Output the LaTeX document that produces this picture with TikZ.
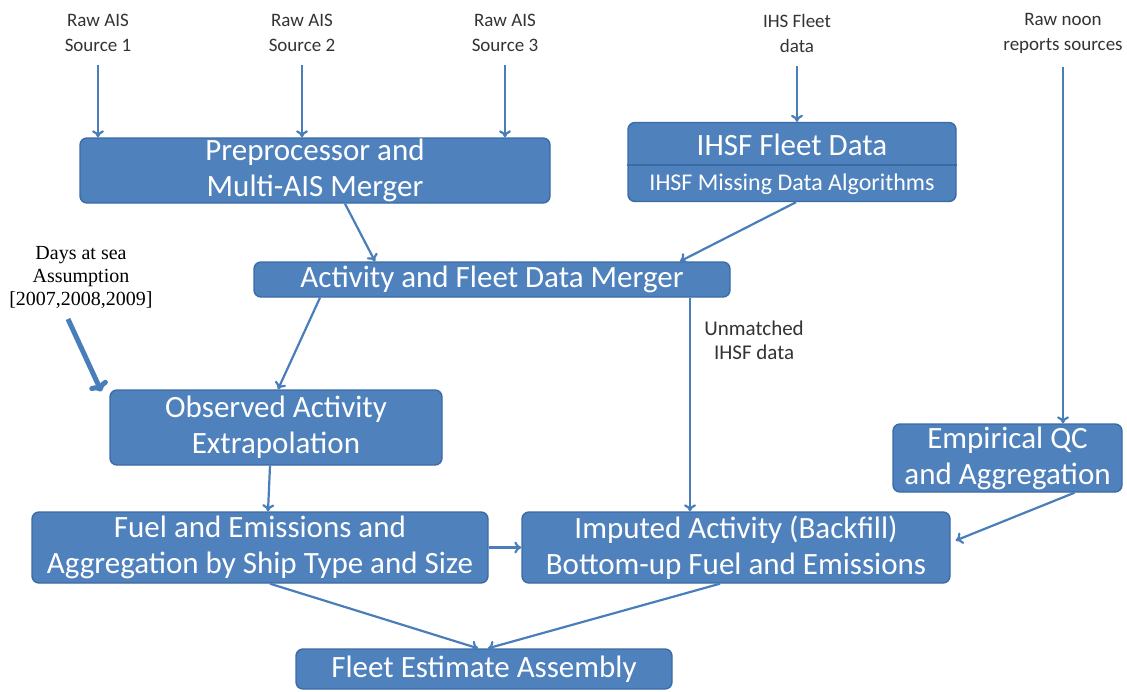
\documentclass[tikz,border=0pt]{standalone}
\usepackage{fontspec}
\setmainfont{Carlito}
\newfontfamily\notefont{Liberation Serif}
\usetikzlibrary{arrows.meta}

\definecolor{boxblue}{HTML}{4F81BD}
\definecolor{edgeblue}{HTML}{3A6BA5}
\definecolor{arrowblue}{HTML}{4A7EBB}
\definecolor{labelgray}{HTML}{333333}

\begin{document}
\begin{tikzpicture}[x=1pt, y=-1pt,
		box/.style={draw=edgeblue, line width=1.4pt, fill=boxblue, rounded corners=7pt,
			text=white, align=center, inner sep=0pt, font=\fontsize{31}{36}\selectfont},
		src/.style={text=labelgray, align=center, font=\fontsize{19}{25}\selectfont},
		flow/.style={draw=arrowblue, line width=2.2pt, -{To[length=7pt, width=12pt]}},
	]
			\useasboundingbox (0,0) rectangle (1127,691);
			
			% inputs
			\node [src] (ais1) at (98,33) {Raw AIS\\Source 1};
			\node [src] (ais2) at (302,33) {Raw AIS\\Source 2};
			\node [src] (ais3) at (505,33) {Raw AIS\\Source 3};
			\node [src] (ihs) at (797,33) {IHS Fleet\\data};
			\node [src] (noon) at (1063,33) {Raw noon\\reports sources};
			\node [text=black, align=center, font=\notefont\fontsize{20}{23}\selectfont] (days) at (81,277) {Days at sea\\Assumption\\{[2007,2008,2009]}};
			\coordinate (daystail) at (68,319);
			
			% processing boxes
			\node [box, minimum width=470, minimum height=65] (prep) at (315,170.5) {Preprocessor and\\Multi-AIS Merger};
			\node [box, minimum width=328, minimum height=79] (ihsf) at (792,162) {};
			\node [text=white, font=\fontsize{31}{36}\selectfont] (ihsfname) at (792,145) {IHSF Fleet Data};
			\node [text=white, font=\fontsize{24}{28}\selectfont] (ihsfalg) at (792,184) {IHSF Missing Data Algorithms};
			\draw [edgeblue, line width=1.4pt] ([yshift=-3pt]ihsf.west) -- ([yshift=-3pt]ihsf.east);
			\node [box, minimum width=476, minimum height=35] (merge) at (492,279.5) {Activity and Fleet Data Merger};
			\node [box, minimum width=332, minimum height=75] (obs) at (276,427.5) {Observed Activity\\Extrapolation};
			\node [box, minimum width=229, minimum height=68] (emp) at (1007.5,458) {Empirical QC\\and Aggregation};
			\node [box, minimum width=456, minimum height=71] (fuel) at (260,547.5) {Fuel and Emissions and\\Aggregation by Ship Type and Size};
			\node [box, minimum width=428, minimum height=71] (imp) at (736,547.5) {Imputed Activity (Backfill)\\Bottom-up Fuel and Emissions};
			\node [box, minimum width=376, minimum height=40] (fleet) at (484,669) {Fleet Estimate Assembly};
			
			% connectors
			\draw [flow, shorten <=10pt] (ais1) -- (ais1 |- prep.north);
			\draw [flow, shorten <=10pt] (ais2) -- (ais2 |- prep.north);
			\draw [flow, shorten <=10pt] (ais3) -- (ais3 |- prep.north);
			\draw [flow, shorten <=10pt] (ihs) -- (ihs |- ihsf.north);
			\draw [flow, shorten <=10pt] (noon) -- (noon |- emp.north);
			\draw [flow] ([xshift=30pt]prep.south) -- ([xshift=-117pt]merge.north);
			\draw [flow] ([xshift=4pt]ihsf.south) -- ([xshift=188pt]merge.north);
			\draw [flow] ([xshift=-172pt]merge.south) -- ([xshift=2pt]obs.north);
			\draw [flow] ([xshift=198pt]merge.south) -- ([xshift=198pt]merge.south |- imp.north)
				node [pos=0.2, right=10pt, text=labelgray, align=center, font=\fontsize{21}{24}\selectfont] (unmatched) {Unmatched\\IHSF data};
			\draw [flow, line width=5pt, -{To[length=9pt, width=20pt]}] (daystail) -- ([xshift=-8pt, yshift=-2pt]obs.north west);
			\draw [flow] ([xshift=-6pt]obs.south) -- ([xshift=8pt]fuel.north);
			\draw [flow] (fuel) -- (imp);
			\draw [flow] ([xshift=67pt]emp.south) -- ([xshift=5pt, yshift=7pt]imp.east);
			\draw [flow] ([xshift=10pt]fuel.south) -- ([xshift=-6pt]fleet.north);
			\draw [flow] ([xshift=-16pt]imp.south) -- ([xshift=4pt]fleet.north);
		\end{tikzpicture}
\end{document}
